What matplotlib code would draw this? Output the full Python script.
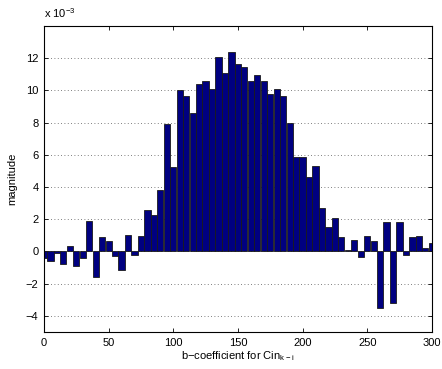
import numpy as np
import matplotlib
matplotlib.use("Agg")
import matplotlib.pyplot as plt

# coefficient index (every 5th tap) and magnitude in units of 1e-3
coef_idx = list(range(0, 301, 5))
magnitude = [
    -0.40, -0.58, -0.08, -0.78, 0.31, -0.90, -0.43, 1.92, -1.59, 0.91,
    0.62, -0.27, -1.13, 1.05, -0.19, 0.93, 2.60, 2.25, 3.83, 7.93,
    5.24, 10.00, 9.66, 8.59, 10.40, 10.60, 10.07, 12.05, 11.08, 12.40,
    11.66, 11.46, 10.60, 10.98, 10.59, 9.75, 10.09, 9.63, 7.95, 5.84,
    5.84, 4.64, 5.33, 2.72, 1.50, 2.10, 0.89, 0.12, 0.74, -0.37,
    0.93, 0.68, -3.49, 1.86, -3.20, 1.86, -0.23, 0.87, 0.93, 0.19,
    0.54,
]
x_ticks = [0, 50, 100, 150, 200, 250, 300]
y_ticks = [-4, -2, 0, 2, 4, 6, 8, 10, 12]

plt.rcParams["font.family"] = ["Liberation Sans", "DejaVu Sans"]
plt.rcParams["font.size"] = 8

fig = plt.figure(figsize=(4.42, 3.69), dpi=100)
ax = fig.add_axes([0.0995, 0.1003, 0.8775, 0.8292])

ax.bar(coef_idx, magnitude, width=4.8, color="#000080", edgecolor="#1a1a1a",
       linewidth=0.6, zorder=2)

ax.set_xlim(0, 300)
ax.set_ylim(-5, 14)
ax.set_xticks(x_ticks)
ax.set_yticks(y_ticks)
ax.yaxis.grid(True, linestyle=(0, (1, 3)), color="#555555", linewidth=0.6, zorder=0)
ax.set_axisbelow(True)
ax.tick_params(direction="in", top=True, right=True, length=3, width=0.6, pad=4)
for s in ax.spines.values():
    s.set_linewidth(0.8)

ax.set_xlabel("b\u2212coefficient for Cin$_{\\mathregular{k\u2212i}}$", labelpad=1)
ax.set_ylabel("magnitude", labelpad=6)
fig.text(0.0995, 0.945, "x 10$^{\\mathregular{-3}}$", ha="left", va="bottom")

fig.savefig("out.png", dpi=100)
